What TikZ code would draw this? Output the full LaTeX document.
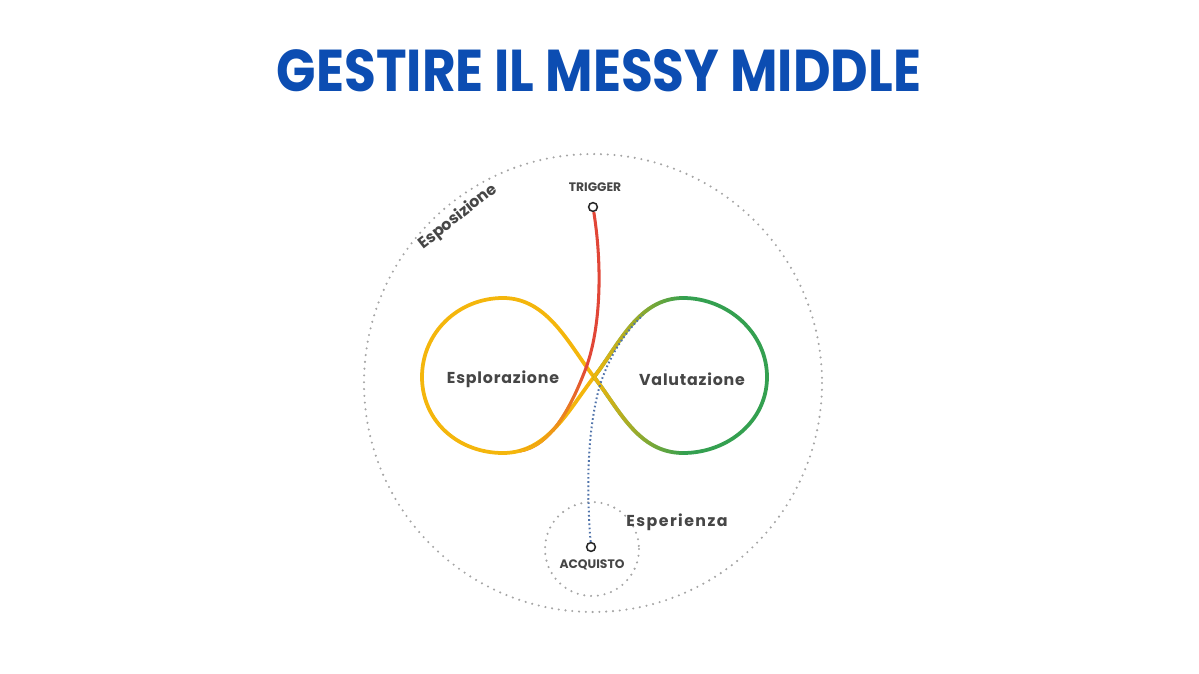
\documentclass[tikz,border=0pt]{standalone}
\usepackage{fontspec}
\setmainfont{Poppins}
\newfontfamily\lblfont{Poppins}[LetterSpace=5]
\newfontfamily\widefont{Poppins}[LetterSpace=9]
\usetikzlibrary{fadings}
\definecolor{titleblue}{RGB}{12,77,178}
\definecolor{loopyellow}{RGB}{244,182,12}
\definecolor{loopgreen}{RGB}{52,160,80}
\definecolor{trigred}{RGB}{225,70,55}
\definecolor{pathblue}{RGB}{80,115,170}
\definecolor{dotgray}{RGB}{165,165,165}
\definecolor{txtgray}{RGB}{70,70,70}
\tikzfading[name=fadeyel, left color=transparent!0, right color=transparent!100]
\tikzfading[name=fadered, top color=transparent!100, bottom color=transparent!0]
\begin{document}
\begin{tikzpicture}[x=0.03cm, y=-0.03cm,
    dotring/.style={dotgray, line width=2pt, line cap=round, dash pattern=on 0pt off 5.8pt},
    bluedots/.style={pathblue, line width=1.7pt, dash pattern=on 1.4pt off 2.2pt},
    loopline/.style={line width=3.2pt},
    stage/.style={font=\lblfont\bfseries\fontsize{13.5}{16}\selectfont, text=txtgray},
    tag/.style={font=\bfseries\fontsize{10.5}{12}\selectfont, text=txtgray},
    endpt/.style={circle, draw=black!85, fill=white, line width=1.3pt, inner sep=0pt, minimum size=7.5pt}]
    \useasboundingbox (0,0) rectangle (1199,674);
    % titolo
    \node[text=titleblue, inner sep=0pt] (title) at (599,71) {\resizebox{19.32cm}{1.26cm}{\bfseries GESTIRE IL MESSY MIDDLE}};
    % cerchi tratteggiati
    \draw[dotring] (593,383) circle (229);
    \draw[dotring] (592,549) circle (47);
    \node[text=txtgray, font=\bfseries\fontsize{13.5}{16}\selectfont, rotate=38] (expo) at (458,217) {Esposizione};
    % otto
    \coordinate (mid) at (594,377);
    \draw[loopline, loopyellow] (mid) .. controls (569,345) and (548,298) .. (503,298)
        .. controls (458,298) and (422,333) .. (422,377)
        .. controls (422,421) and (458,453) .. (503,453)
        .. controls (548,453) and (569,409) .. (mid);
    \draw[loopline, loopgreen] (mid) .. controls (619,345) and (638,298) .. (683,298)
        .. controls (728,298) and (767,333) .. (767,377)
        .. controls (767,421) and (728,453) .. (683,453)
        .. controls (638,453) and (619,409) .. (mid);
    \draw[loopline, loopyellow, path fading=fadeyel] (mid) .. controls (619,345) and (638,298) .. (683,298)
        (683,453) .. controls (638,453) and (619,409) .. (mid);
    % trigger
    \node[endpt] (trig) at (593,207) {};
    \node[tag] (trigtxt) at (595,187) {TRIGGER};
    \coordinate (knee) at (586,368);
    \coordinate (merge) at (520,451);
    \draw[line width=2.6pt, trigred] (trig) .. controls (603,270) and (600,330) .. (knee)
        .. controls (570,410) and (550,446) .. (merge);
    \draw[line width=2.6pt, loopyellow, path fading=fadered] (knee) .. controls (570,410) and (550,446) .. (merge);
    % acquisto
    \node[endpt] (acq) at (591,547) {};
    \node[tag] (acqtxt) at (592,565) {ACQUISTO};
    \coordinate (blueend) at (643,315);
    \draw[bluedots] (acq) .. controls (585,470) and (590,420) .. (600,385)
        .. controls (608,360) and (622,335) .. (blueend);
    % etichette
    \node[stage] (esplo) at (503,379) {Esplorazione};
    \node[stage] (valu) at (692,379) {Valutazione};
    \node[stage, font=\widefont\bfseries\fontsize{13.5}{16}\selectfont] (esper) at (677,522) {Esperienza};
\end{tikzpicture}
\end{document}
